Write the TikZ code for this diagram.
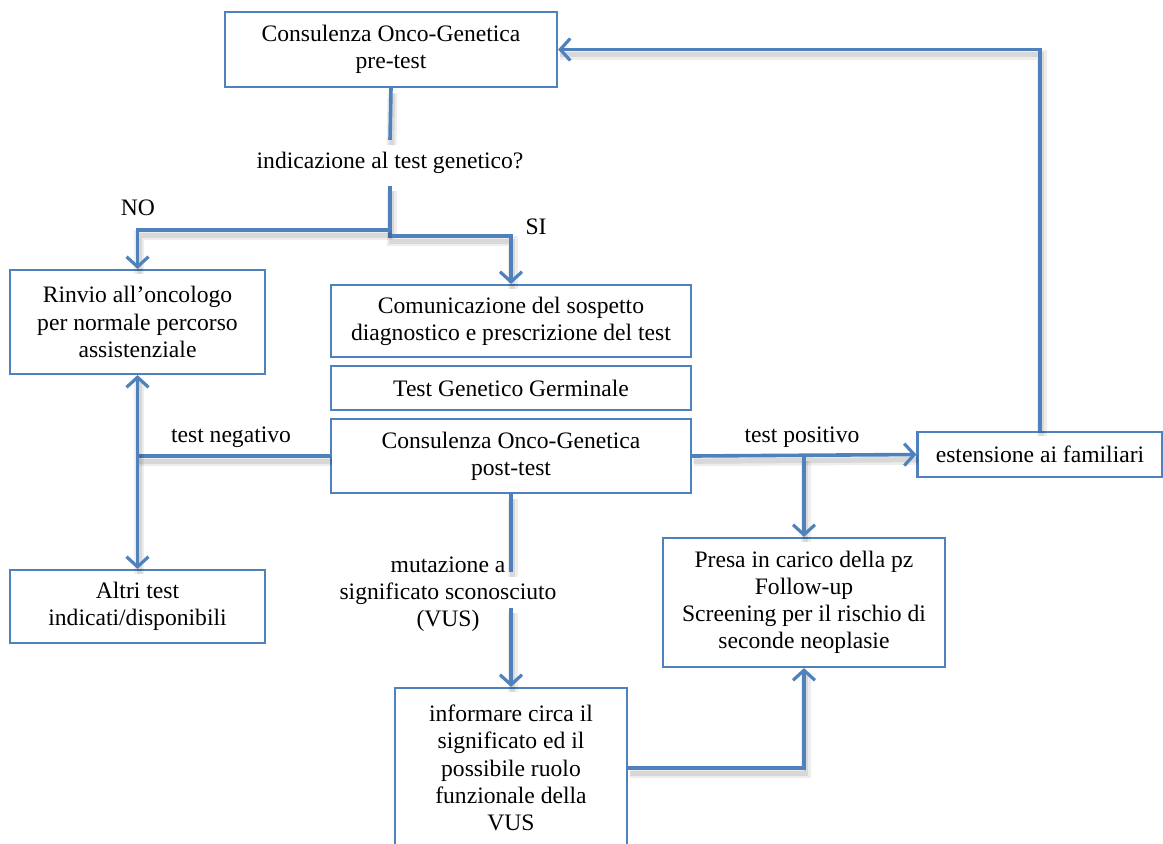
\documentclass[tikz,border=0pt]{standalone}
\usepackage{fontspec}
\setmainfont{Liberation Serif}
\usetikzlibrary{arrows.meta}
\definecolor{flowblue}{HTML}{4F81BD}
\tikzset{
  txt/.style={font=\fontsize{11.8}{13.6}\selectfont},
  box/.style={txt, draw=flowblue, line width=1.1pt, align=center, inner sep=0pt},
  lbl/.style={txt, align=center, inner sep=0pt},
  conn/.style={draw=flowblue, line width=1.8pt,
    preaction={draw=black, opacity=0.07, line width=5pt, arrows=-,
      transform canvas={shift={(0.8pt,-2.6pt)}}},
    preaction={draw=black, opacity=0.09, line width=2.6pt, arrows=-,
      transform canvas={shift={(0.8pt,-2.6pt)}}}},
  arr/.style={-{Straight Barb[length=5pt,width=11pt,line width=1.6pt]}}
}
\begin{document}
\begin{tikzpicture}[x=0.5pt,y=-0.5pt]
\useasboundingbox (0,0) rectangle (1163,843);
\clip (0,0) rectangle (1163,843);

% boxes
\node[box, minimum width=166pt, minimum height=37.5pt] (pre) at (391,49.5)
  {Consulenza Onco-Genetica\\pre-test};
\node[lbl, inner ysep=6pt] (q) at (390,163) {indicazione al test genetico?};
\node[box, minimum width=127.5pt, minimum height=52pt] (rinvio) at (137.5,322)
  {Rinvio all’oncologo\\per normale percorso\\assistenziale};
\node[box, minimum width=180pt, minimum height=36pt] (com) at (511,321)
  {Comunicazione del sospetto\\diagnostico e prescrizione del test};
\node[box, minimum width=180pt, minimum height=22pt] (tgg) at (511,388)
  {Test Genetico Germinale};
\node[box, minimum width=180pt, minimum height=37pt] (post) at (511,456)
  {Consulenza Onco-Genetica\\post-test};
\node[box, minimum width=127.5pt, minimum height=36.5pt] (altri) at (137.5,606.5)
  {Altri test\\indicati/disponibili};
\node[box, minimum width=122.5pt, minimum height=22.5pt] (est) at (1040,454.5)
  {estensione ai familiari};
\node[box, minimum width=141pt, minimum height=64.5pt] (presa) at (804,602.5)
  {Presa in carico della pz\\Follow-up\\Screening per il rischio di\\seconde neoplasie};
\node[box, minimum width=116pt, minimum height=80pt] (info) at (511,768)
  {informare circa il\\significato ed il\\possibile ruolo\\funzionale della\\VUS};

% labels
\node[lbl] (no) at (138,208) {NO};
\node[lbl] (si) at (536,227) {SI};
\node[lbl] (neg) at (231,437) {test negativo};
\node[lbl] (pos) at (802,437) {test positivo};
\node[lbl] (vus) at (448,594) {mutazione a\\significato sconosciuto\\(VUS)};

% junctions
\coordinate (jl) at (390,230);
\coordinate (jr) at (390,236);
\coordinate (jn) at (rinvio.south |- post.west);
\coordinate (jp) at (presa.north |- post.east);
\coordinate (va) at (511,572);
\coordinate (vb) at (511,608);

% connectors
\draw[conn] (pre.south) -- (q.north);
\draw[conn, arr] (q.south) -- (jr) -| (com.north);
\draw[conn, arr] (jl) -| (rinvio.north);
\draw[conn] (post.west) -- (jn);
\draw[conn, arr] (jn) -- (rinvio.south);
\draw[conn, arr] (jn) -- (altri.north);
\draw[conn, arr] (post.east) -- (est.west);
\draw[conn, arr] (jp) -- (presa.north);
\draw[conn, arr] (est.north) |- (pre.east);
\draw[conn] (post.south) -- (va);
\draw[conn, arr] (vb) -- (info.north);
\draw[conn, arr] (info.east) -| (presa.south);
\end{tikzpicture}
\end{document}
